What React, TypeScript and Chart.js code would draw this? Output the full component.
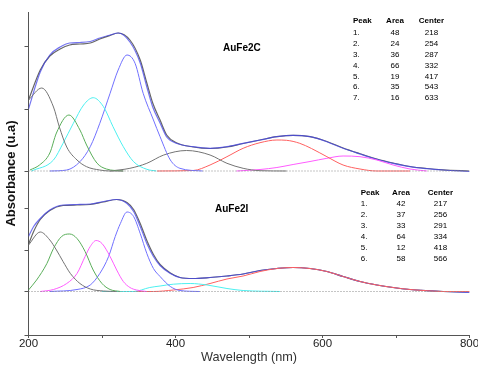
import { useEffect, useRef } from 'react';
import { Chart, registerables } from 'chart.js';
Chart.register(...registerables);

// ---------- data (heights are above each spectrum's own baseline) ----------
const UPPER_BASE = 164;
const LOWER_BASE = 43.5;
const yTickMarks = [0, 43.5, 85, 127, 164, 226, 289];

// AuFe2C (upper)
const uSumX = [200, 216, 229, 243, 256, 270, 284, 297, 311, 322, 338, 352, 361, 369, 379, 388, 402, 424, 447, 470, 492, 515, 538, 560, 583, 606, 628, 651, 674, 696, 719, 742, 764, 800];
const uSumY = [62, 99, 116, 124, 128, 128.5, 129.5, 133, 136, 138, 129, 108, 84, 64, 48, 34, 27.5, 24.3, 22.7, 24.3, 27.7, 31, 34.3, 35.7, 34.3, 29.3, 22.7, 17, 11.7, 7.7, 4.3, 2.3, 1, -0.5];
const uFitY = [71, 101, 115, 122, 126, 127, 128, 132, 135.5, 138, 131, 111, 88, 68, 51, 36, 28, 24, 22.5, 24, 27.5, 31, 34.3, 35.7, 34.3, 29.5, 23, 17.3, 12, 8, 4.5, 2.5, 1.2, 0];
const u1X = [200, 218, 234, 242, 252, 266, 279, 297, 311, 329];
const u1Y = [71, 83, 64, 44, 24, 11, 4.3, 1, 0, 0];
const u2X = [202, 215, 229, 238, 255, 270, 279, 293, 306, 329];
const u2Y = [1, 6, 18, 38, 56, 41, 26, 8, 2, 0];
const u3X = [204, 234, 247, 261, 275, 288, 302, 315, 329, 343, 361, 374];
const u3Y = [0, 11, 27.7, 47.7, 66, 73.3, 64.3, 44.3, 24.3, 9.3, 1.7, 0];
const u4X = [229, 252, 270, 284, 297, 311, 322, 334, 345, 356, 370, 379, 393, 406, 437];
const u4Y = [0, 1, 9.3, 24.3, 47.7, 77.7, 101, 116, 107.7, 77.7, 51, 34.3, 11, 2.7, 0];
const u5X = [311, 338, 361, 384, 415, 447, 470, 492, 515, 551];
const u5Y = [0, 2.7, 7.7, 16, 20.5, 16, 7.7, 2.7, 0.3, 0];
const u6X = [375, 424, 447, 470, 492, 515, 538, 551, 569, 585, 606, 628, 651, 674, 719];
const u6Y = [0, 0.5, 6, 14.3, 22.7, 28.3, 31, 30.7, 27.7, 22.5, 14.3, 6, 2, 0, 0];
const u7X = [483, 515, 538, 560, 583, 606, 628, 651, 674, 696, 719, 742];
const u7Y = [0, 1.5, 3.5, 6.5, 9.5, 12.7, 15, 14.3, 11, 6, 2, 0];

// AuFe2I (lower)
const lSumX = [200, 207, 216, 229, 247, 266, 284, 302, 320, 334, 343, 352, 361, 370, 379, 393, 406, 424, 447, 470, 492, 515, 538, 560, 583, 606, 628, 651, 674, 696, 719, 742, 764, 800];
const lSumY = [55, 65, 73, 81.5, 86.5, 87, 87.5, 90, 92, 88, 80, 65, 48, 35, 26, 18, 14, 13, 14, 15.5, 17.5, 21, 23, 24, 23, 20, 15, 10, 6.5, 4, 2, 0.8, 0, -0.8];
const lFitY = [47, 60, 72, 81, 86, 86.5, 87, 89.5, 92, 89, 82, 68, 51, 37, 27, 18.5, 14, 13, 14, 15.5, 17.5, 21, 23, 24, 23, 20, 15, 10, 6.5, 4, 2, 0.8, 0, -0.5];
const l1X = [200, 216, 229, 238, 247, 257, 270, 284, 302, 320];
const l1Y = [46.5, 59.5, 51.5, 41.5, 30, 18, 8, 2.5, 0.5, 0];
const l2X = [200, 211, 225, 234, 245, 256, 266, 277, 288, 300, 311, 325];
const l2Y = [1.5, 11.5, 28, 43, 55, 57.5, 53, 40, 21.5, 8, 2, 0];
const l3X = [216, 234, 252, 266, 277, 284, 292, 300, 311, 320, 329, 338, 347, 361];
const l3Y = [0, 2, 8, 18, 35, 45, 51, 48, 35, 21.5, 10, 4, 1.5, 0];
const l4X = [229, 266, 284, 297, 309, 318, 325, 334, 343, 352, 361, 370, 379, 393, 406, 433];
const l4Y = [0, 2, 6.5, 18, 35, 55, 68, 79.5, 75, 58, 38, 23, 15, 5, 1, 0];
const l5X = [300, 343, 365, 379, 397, 420, 443, 470, 492, 542];
const l5Y = [0, 0, 4, 5.5, 7.3, 8, 6.5, 3, 1, 0];
const l6X = [343, 370, 397, 424, 447, 470, 492, 515, 538, 560, 583, 606, 628, 651, 674, 696, 719, 742, 764, 800];
const l6Y = [0, 0, 1.5, 4, 8, 12.5, 15.5, 20, 23, 24, 23, 20, 15, 10, 6.5, 4, 2, 0.8, 0, 0];

// tables
const areasC = [48, 24, 36, 66, 19, 35, 16];
const centersC = [218, 254, 287, 332, 417, 543, 633];
const areasI = [42, 37, 33, 64, 12, 58];
const centersI = [217, 256, 291, 334, 418, 566];

const COLORS = {
  sum: 'rgba(70,70,235,0.75)',
  fit: 'rgba(75,75,75,0.85)',
  gray: '#747474',
  green: '#5aae5a',
  cyan: '#4cf0f0',
  blue: '#7070ff',
  red: '#ff6060',
  magenta: '#ff5cff',
  base: '#8a8a8a',
};

function pts(xs: number[], ys: number[], base: number) {
  return xs.map((x, i) => ({ x, y: ys[i] + base }));
}

function line(data: any[], color: string, width = 1, extra: any = {}) {
  return {
    data,
    borderColor: color,
    borderWidth: width,
    pointRadius: 0,
    fill: false,
    cubicInterpolationMode: 'monotone',
    ...extra,
  };
}

const textPlugin = {
  id: 'texts',
  afterDraw(chart: any) {
    const ctx = chart.ctx;
    ctx.save();
    ctx.fillStyle = '#000';
    ctx.textBaseline = 'middle';
    ctx.font = 'bold 10px "Liberation Sans", Arial, sans-serif';
    ctx.textAlign = 'left';
    ctx.fillText('AuFe2C', 223, 48);
    ctx.fillText('AuFe2I', 215, 209);

    const table = (peakX: number, areaX: number, centerX: number, headY: number, rowY: number, dy: number, areas: number[], centers: number[]) => {
      ctx.font = 'bold 8px "Liberation Sans", Arial, sans-serif';
      ctx.textAlign = 'left';
      ctx.fillText('Peak', peakX, headY);
      ctx.textAlign = 'center';
      ctx.fillText('Area', areaX, headY);
      ctx.fillText('Center', centerX, headY);
      ctx.font = '8px "Liberation Sans", Arial, sans-serif';
      areas.forEach((a, i) => {
        const y = rowY + i * dy;
        ctx.textAlign = 'left';
        ctx.fillText(`${i + 1}.`, peakX, y);
        ctx.textAlign = 'center';
        ctx.fillText(String(a), areaX, y);
        ctx.fillText(String(centers[i]), centerX, y);
      });
    };
    table(353, 395, 431.5, 21, 32.7, 10.9, areasC, centersC);
    table(360.7, 401, 440.5, 192.7, 203.3, 11.05, areasI, centersI);
    ctx.restore();
  },
};

export default function App() {
  const ref = useRef<HTMLCanvasElement>(null);
  useEffect(() => {
    if (!ref.current) return;
    const datasets: any[] = [
      line([{ x: 200, y: UPPER_BASE }, { x: 800, y: UPPER_BASE }], COLORS.base, 1, { borderDash: [1, 2], cubicInterpolationMode: 'default' }),
      line([{ x: 200, y: LOWER_BASE }, { x: 800, y: LOWER_BASE }], COLORS.base, 1, { borderDash: [1, 2], cubicInterpolationMode: 'default' }),
      line(pts(u1X, u1Y, UPPER_BASE), COLORS.gray),
      line(pts(u2X, u2Y, UPPER_BASE), COLORS.green),
      line(pts(u3X, u3Y, UPPER_BASE), COLORS.cyan),
      line(pts(u4X, u4Y, UPPER_BASE), COLORS.blue),
      line(pts(u5X, u5Y, UPPER_BASE), COLORS.gray),
      line(pts(u6X, u6Y, UPPER_BASE), COLORS.red),
      line(pts(u7X, u7Y, UPPER_BASE), COLORS.magenta),
      line(pts(l1X, l1Y, LOWER_BASE), COLORS.gray),
      line(pts(l2X, l2Y, LOWER_BASE), COLORS.green),
      line(pts(l3X, l3Y, LOWER_BASE), COLORS.magenta),
      line(pts(l4X, l4Y, LOWER_BASE), COLORS.blue),
      line(pts(l5X, l5Y, LOWER_BASE), COLORS.cyan),
      line(pts(l6X, l6Y, LOWER_BASE), COLORS.red),
      line(pts(uSumX, uSumY, UPPER_BASE), COLORS.sum, 1.2),
      line(pts(uSumX, uFitY, UPPER_BASE), COLORS.fit, 1.2),
      line(pts(lSumX, lSumY, LOWER_BASE), COLORS.sum, 1.2),
      line(pts(lSumX, lFitY, LOWER_BASE), COLORS.fit, 1.2),
    ];
    const chart = new Chart(ref.current, {
      type: 'line',
      data: { datasets },
      plugins: [textPlugin],
      options: {
        animation: false,
        responsive: false,
        devicePixelRatio: 1,
        layout: { padding: { top: 12, right: 30.5, left: 0, bottom: 0 } },
        plugins: { legend: { display: false }, tooltip: { enabled: false } },
        scales: {
          x: {
            type: 'linear',
            min: 200,
            max: 800,
            afterFit: (s: any) => { s.height = 31; },
            border: { display: true, color: '#555', width: 1 },
            grid: { display: true, drawOnChartArea: false, drawTicks: true, tickLength: 3, color: '#555' },
            ticks: {
              stepSize: 100,
              padding: -1,
              color: '#222',
              font: { family: '"Liberation Sans", Arial, sans-serif', size: 11.5 },
              callback: (v: any) => (Number(v) % 200 === 0 ? String(v) : ''),
              maxRotation: 0,
              autoSkip: false,
            },
            title: {
              display: true,
              text: 'Wavelength (nm)',
              color: '#333',
              font: { family: '"Liberation Sans", Arial, sans-serif', size: 12.7 },
              padding: { top: 0, bottom: 1 },
            },
          },
          y: {
            type: 'linear',
            min: 0,
            max: 323,
            afterFit: (s: any) => { s.width = 28.5; },
            afterBuildTicks: (s: any) => { s.ticks = yTickMarks.map((v) => ({ value: v })); },
            border: { display: true, color: '#555', width: 1 },
            grid: { display: true, drawOnChartArea: false, drawTicks: true, tickLength: 4, color: '#555' },
            ticks: { display: false },
            title: {
              display: true,
              text: 'Absorbance (u.a)',
              color: '#111',
              font: { family: '"Liberation Sans", Arial, sans-serif', size: 13, weight: 'bold' },
              padding: { top: 4, bottom: 4 },
            },
          },
        },
      },
    });
    return () => chart.destroy();
  }, []);

  return (
    <div style={{ position: 'fixed', left: 0, top: 0, width: 478, height: 366, overflow: 'hidden', background: '#fff' }}>
      <canvas ref={ref} width={500} height={366} style={{ display: 'block' }} />
    </div>
  );
}
